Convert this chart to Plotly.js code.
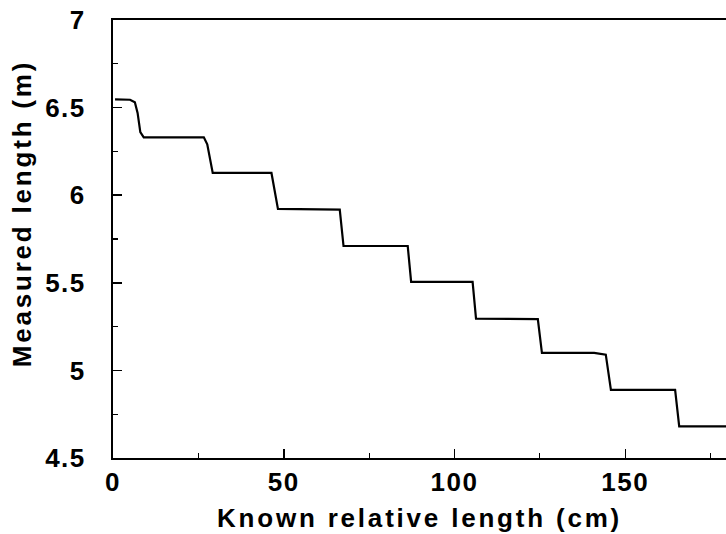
<!DOCTYPE html>
<html>
<head>
<meta charset="utf-8">
<script src="https://cdn.plot.ly/plotly-3.0.1.min.js"></script>
<style>
  html, body { margin: 0; padding: 0; background: #fff; }
  #chart { width: 726px; height: 534px; }
  .annotation-text { letter-spacing: 2.8px; }
  .xtick text, .ytick text { letter-spacing: 1.5px; }
</style>
</head>
<body>
<div id="chart"></div>
<script>
// Known relative length (cm) vs measured length (m), staircase trace
const knownLength = [0.6, 5.0, 6.4, 7.2, 8.0, 9.0, 26.6, 27.6, 29.2, 46.4, 48.3, 66.4, 67.5, 86.3, 87.3, 105.3, 106.3, 124.4, 125.6, 140.9, 144.3, 145.8, 164.6, 165.8, 179.5];
const measuredLength = [6.547, 6.545, 6.53, 6.47, 6.36, 6.33, 6.33, 6.29, 6.127, 6.127, 5.922, 5.918, 5.71, 5.71, 5.505, 5.505, 5.295, 5.293, 5.10, 5.10, 5.09, 4.889, 4.889, 4.68, 4.68];

const xTickVals = [0, 50, 100, 150];
const yTickVals = [4.5, 5, 5.5, 6, 6.5, 7];
const yTickText = ['4.5', '5', '5.5', '6', '6.5', '7'];

const FONT = 'Liberation Sans, Arial, sans-serif';

const trace = {
  x: knownLength,
  y: measuredLength,
  type: 'scatter',
  mode: 'lines',
  line: { color: '#000', width: 2.2, shape: 'linear' },
  hoverinfo: 'skip'
};

const layout = {
  width: 726,
  height: 534,
  margin: { l: 113, r: 0, t: 20, b: 76 },
  paper_bgcolor: '#fff',
  plot_bgcolor: '#fff',
  showlegend: false,
  font: { family: FONT, color: '#000' },
  xaxis: {
    range: [0, 179.5],
    tickvals: xTickVals,
    ticks: 'inside',
    ticklen: 9,
    tickwidth: 1.5,
    tickcolor: '#000',
    showline: true,
    linecolor: '#000',
    linewidth: 2,
    mirror: true,
    showgrid: false,
    zeroline: false,
    ticklabelstandoff: 0,
    tickfont: { family: FONT, size: 26, weight: 'bold', color: '#000' },
    minor: { dtick: 25, tick0: 0, ticks: 'inside', ticklen: 5, tickwidth: 1.2, tickcolor: '#000', showgrid: false }
  },
  yaxis: {
    range: [4.5, 7],
    tickvals: yTickVals,
    ticktext: yTickText,
    ticks: 'inside',
    ticklen: 9,
    tickwidth: 1.5,
    tickcolor: '#000',
    showline: true,
    linecolor: '#000',
    linewidth: 2,
    mirror: false,
    showgrid: false,
    zeroline: false,
    ticklabelstandoff: 20,
    tickfont: { family: FONT, size: 26, weight: 'bold', color: '#000' },
    minor: { dtick: 0.25, tick0: 4.5, ticks: 'inside', ticklen: 5, tickwidth: 1.2, tickcolor: '#000', showgrid: false }
  },
  annotations: [
    {
      text: 'Known relative length (cm)',
      xref: 'paper', yref: 'paper',
      x: 0.5, y: -0.137,
      xanchor: 'center', yanchor: 'middle',
      showarrow: false,
      font: { family: FONT, size: 26, weight: 'bold', color: '#000' }
    },
    {
      text: 'Measured length (m)',
      xref: 'paper', yref: 'paper',
      x: -0.149, y: 0.558,
      xanchor: 'center', yanchor: 'middle',
      textangle: -90,
      showarrow: false,
      font: { family: FONT, size: 26, weight: 'bold', color: '#000' }
    }
  ]
};

Plotly.newPlot('chart', [trace], layout, { displayModeBar: false, staticPlot: true });
</script>
</body>
</html>
